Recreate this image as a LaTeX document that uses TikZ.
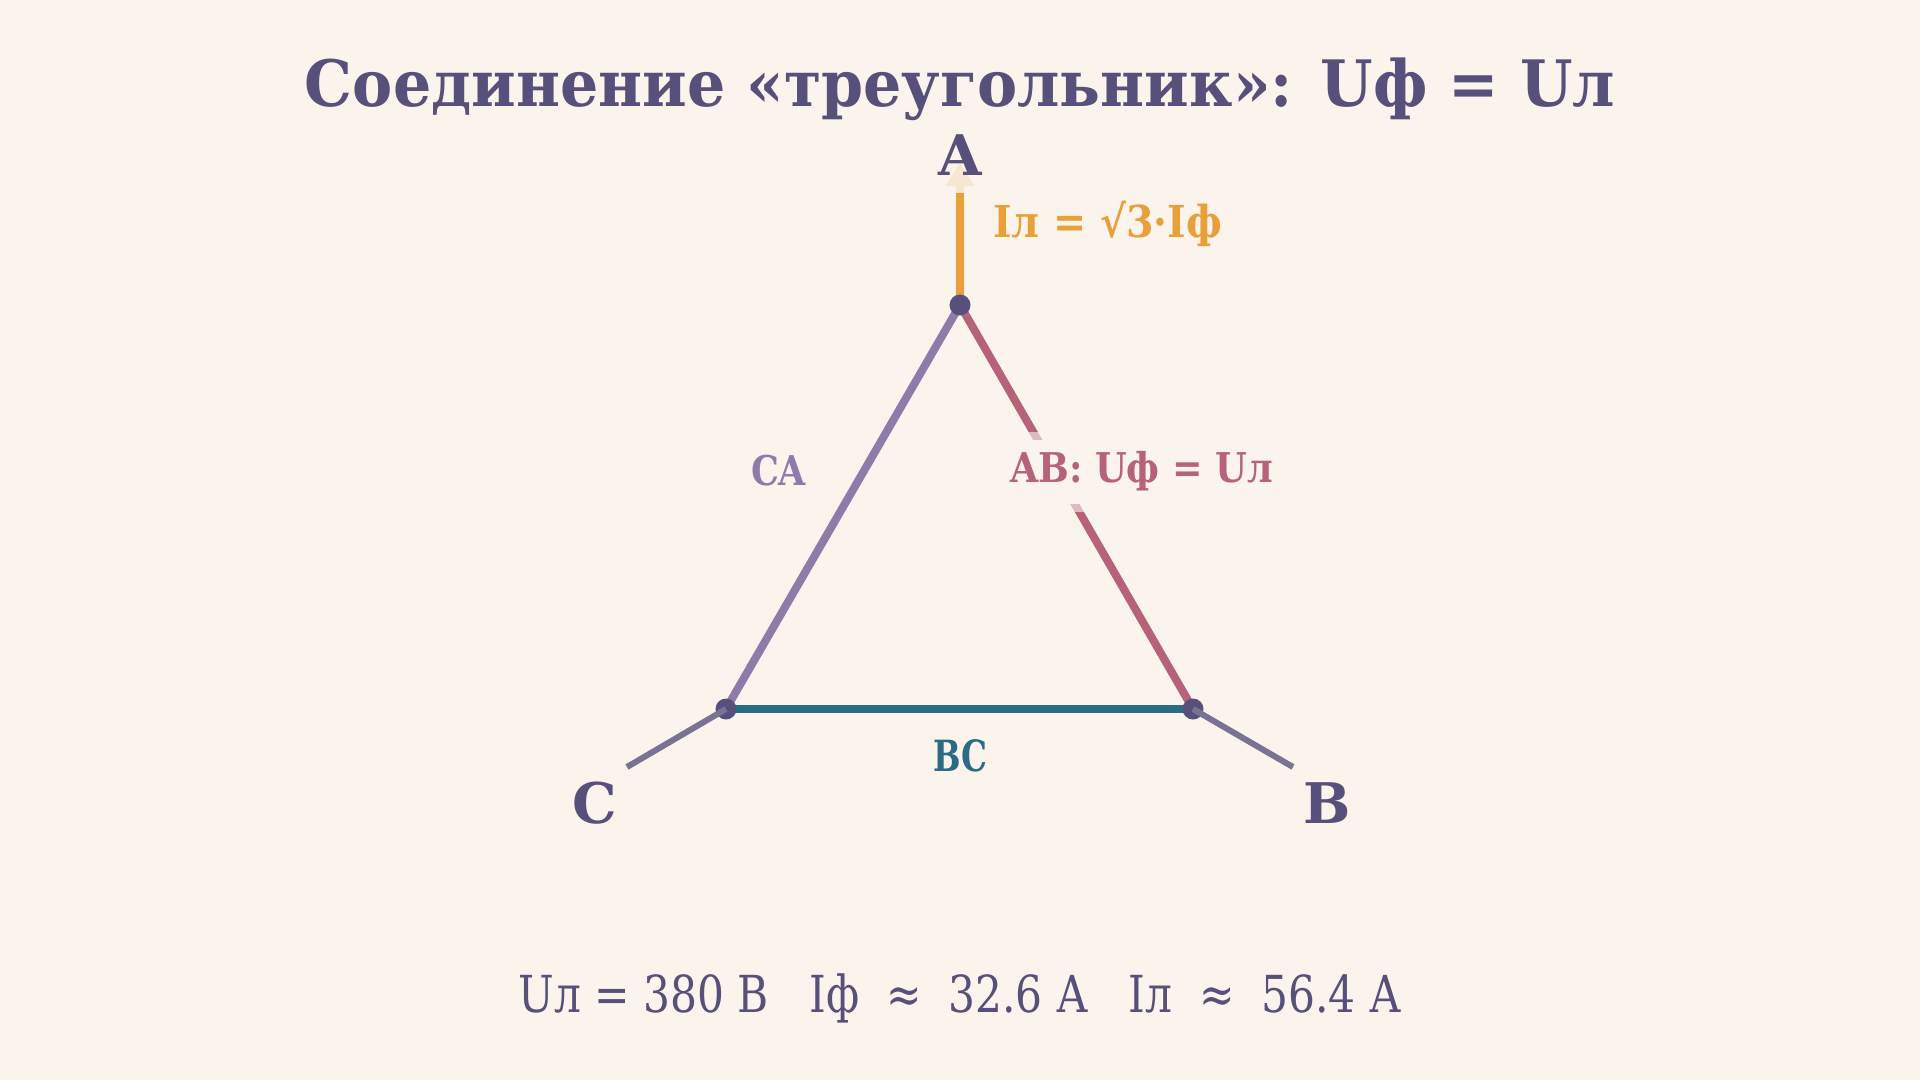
\documentclass[tikz,border=0pt]{standalone}
\usepackage{fontspec}
\usepackage{graphicx}
\setmainfont{DejaVu Serif}
\usetikzlibrary{arrows.meta}
\definecolor{bgc}{HTML}{FAF4EC}
\definecolor{ink}{HTML}{56507A}
\definecolor{orng}{HTML}{E9A03B}
\definecolor{rose}{HTML}{B5627A}
\definecolor{lav}{HTML}{8E7BAA}
\definecolor{tealc}{HTML}{2C6B84}
\definecolor{leadc}{HTML}{787392}
\newcommand{\fitw}[2]{\resizebox{#1}{\height}{#2}}
\begin{document}
\begin{tikzpicture}[x=1pt,y=-1pt,
  dot/.style={circle,fill=ink,inner sep=0pt,minimum size=21pt},
  edgeline/.style={line width=8pt},
  leadline/.style={line width=6pt,color=leadc},
  vlabel/.style={font=\fontsize{56}{60}\selectfont\bfseries,text=ink,anchor=base,inner sep=0pt},
  elabel/.style={font=\fontsize{41}{46}\selectfont\bfseries,anchor=base,inner sep=0pt}]
\path[fill=bgc] (0,0) rectangle (1920,1080);
\useasboundingbox (0,0) rectangle (1920,1080);

% title
\node[anchor=base,inner sep=0pt,text=ink,font=\fontsize{64}{70}\selectfont\bfseries] (title) at (960,106)
  {\fitw{1310pt}{Соединение «треугольник»: Uф = Uл}};

% vertices
\coordinate (pA) at (960,305);
\coordinate (pB) at (1193,709);
\coordinate (pC) at (726,709);
\coordinate (endB) at (1293,767);
\coordinate (endC) at (627,767);
\coordinate (aTip) at (960,163);

% triangle edges
\draw[edgeline,color=lav] (pC) -- (pA);
\draw[edgeline,color=rose] (pA) -- (pB);
\draw[edgeline,color=tealc] (pC) -- (pB);

% line current arrow
\draw[line width=8pt,color=orng,-{Triangle[width=28pt,length=23pt]}] (pA) -- (aTip);

% dots
\node[dot] (dA) at (pA) {};
\node[dot] (dB) at (pB) {};
\node[dot] (dC) at (pC) {};

% leads
\draw[leadline] (dB.center) -- (endB);
\draw[leadline] (dC.center) -- (endC);

% vertex labels
\node[vlabel,fill=bgc,fill opacity=0.85,text opacity=1,text height=44pt,text depth=12pt,inner ysep=6pt,inner xsep=6pt] (labA) at (960,175) {A};
\node[vlabel] (labB) at (1327,823) {B};
\node[vlabel] (labC) at (594.5,823) {C};

% edge labels
\node[elabel,text=orng,font=\fontsize{44}{48}\selectfont\bfseries] (labI) at (1107.5,237) {\fitw{229pt}{Iл = √3·Iф}};
\path[fill=bgc,fill opacity=0.6] (1004,432) rectangle (1279,512);
\node[elabel,text=rose,fill=bgc,text height=31pt,text depth=11pt,inner ysep=11pt,inner xsep=6pt] (labAB) at (1141.5,482) {\fitw{263pt}{AB: Uф = Uл}};
\node[elabel,text=lav] (labCA) at (778.5,485) {\fitw{55pt}{CA}};
\node[elabel,text=tealc,font=\fontsize{43}{46}\selectfont\bfseries] (labBC) at (960,771) {\fitw{54pt}{BC}};

% bottom values
\node[anchor=base,inner sep=0pt,text=ink,font=\fontsize{51}{56}\selectfont] (vals) at (960,1012)
  {\fitw{883pt}{Uл = 380 В~~~Iф~~≈~~32.6 А~~~Iл~~≈~~56.4 А}};
\end{tikzpicture}
\end{document}
